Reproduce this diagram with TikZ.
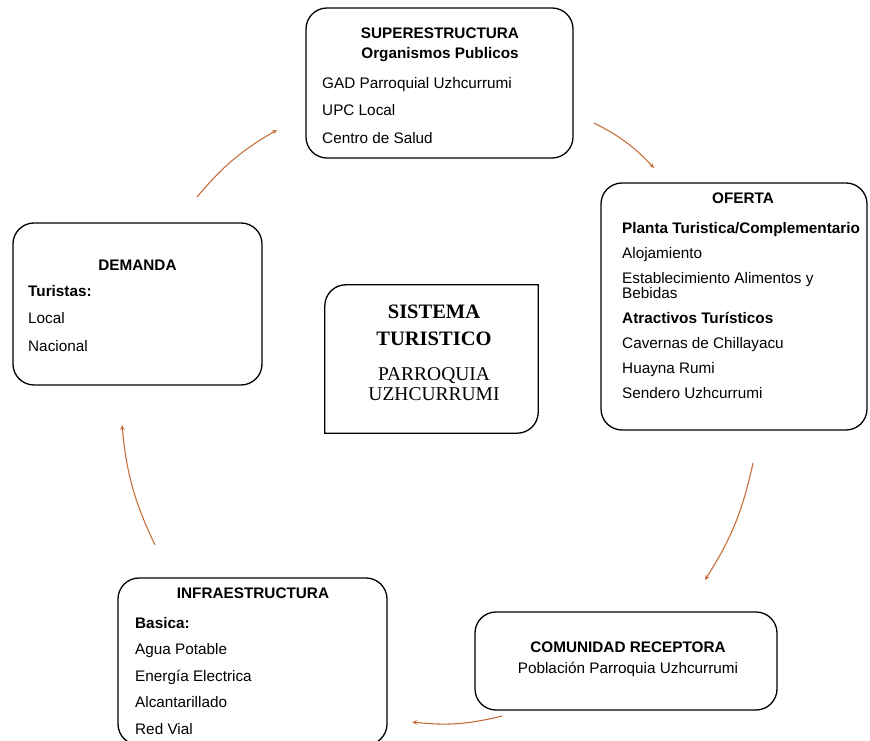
\documentclass[tikz,border=0pt]{standalone}
\usepackage{fontspec}
\setmainfont{Liberation Sans}
\newfontfamily\timesfont{Liberation Serif}
\usetikzlibrary{arrows.meta,positioning}
\definecolor{flowc}{RGB}{197,112,58}

\begin{document}
\begin{tikzpicture}[
				x=1pt,y=1pt,
				box/.style={draw=black,line width=1.3pt,rounded corners=21pt,inner sep=0pt},
				head/.style={font=\bfseries\fontsize{15.3}{20}\selectfont,inner sep=0pt,align=center},
				list/.style={font=\fontsize{15.3}{26.5}\selectfont,inner sep=0pt,align=left},
				flow/.style={draw=flowc,line width=1.1pt,-{Stealth[length=5pt,width=4.5pt]}}
			]
			\clip (0,0) rectangle (870,741);
			% boxes
			\node[box,minimum width=267pt,minimum height=150pt] (super) at (439.5,658) {};
			\node[box,minimum width=266pt,minimum height=247pt] (oferta) at (734,434.5) {};
			\node[box,minimum width=249pt,minimum height=162pt] (demanda) at (137.5,437) {};
			\node[box,minimum width=269pt,minimum height=167pt] (infra) at (252.5,79.5) {};
			\node[box,minimum width=302pt,minimum height=98pt] (comunidad) at (626,80) {};
			\node[inner sep=0pt,minimum width=213pt,minimum height=148pt] (sistema) at (431.5,382) {};
			\draw[line width=1.3pt] (sistema.south west) -- ([yshift=-21pt]sistema.north west)
				arc[start angle=180,end angle=90,radius=21pt] -- (sistema.north east)
				-- ([yshift=21pt]sistema.south east) arc[start angle=0,end angle=-90,radius=21pt] -- cycle;

			% texts
			\node[head,anchor=north] (superhead) at (440,713) {SUPERESTRUCTURA\\Organismos Publicos};
			\node[list,anchor=north west,font=\fontsize{15.3}{27.5}\selectfont] (superlist) at (322,664)
				{GAD Parroquial Uzhcurrumi\\UPC Local\\Centro de Salud};

			\node[head,anchor=north] (ofertahead) at (743,548) {OFERTA};
			\node[list,anchor=north west,font=\fontsize{15.3}{25}\selectfont] (ofertalist) at (622,519)
				{\textbf{Planta Turistica/Complementario}\\Alojamiento\\Establecimiento Alimentos y\\[-10pt]Bebidas\\
				\textbf{Atractivos Turísticos}\\Cavernas de Chillayacu\\Huayna Rumi\\Sendero Uzhcurrumi};

			\node[head,anchor=north] (demandahead) at (137.5,481) {DEMANDA};
			\node[list,anchor=north west,font=\fontsize{15.3}{27.5}\selectfont] (demandalist) at (28,456)
				{\textbf{Turistas:}\\Local\\Nacional};

			\node[head,anchor=north] (infrahead) at (253,153) {INFRAESTRUCTURA};
			\node[list,anchor=north west] (infralist) at (135,124)
				{\textbf{Basica:}\\Agua Potable\\Energía Electrica\\Alcantarillado\\Red Vial};

			\node[head,anchor=north,font=\fontsize{15.3}{21}\selectfont] (comunidadtext) at (628,99)
				{\textbf{COMUNIDAD RECEPTORA}\\Población Parroquia Uzhcurrumi};

			\node[anchor=north,inner sep=0pt,align=center,font=\timesfont\bfseries\fontsize{20.5}{27}\selectfont]
				(sistitle) at (434,436) {SISTEMA\\TURISTICO};
			\node[anchor=north,inner sep=0pt,align=center,font=\timesfont\fontsize{19.5}{20.5}\selectfont]
				(sissub) at (434,374) {PARROQUIA\\UZHCURRUMI};

			% flow arrows
			\coordinate (a1) at (197,544); \coordinate (b1) at (277,611);
			\coordinate (a2) at (594,618); \coordinate (b2) at (654,573);
			\coordinate (a3) at (753,278); \coordinate (b3) at (705,161);
			\coordinate (a4) at (502,25);  \coordinate (b4) at (412,19);
			\coordinate (a5) at (155,196); \coordinate (b5) at (122,316);
			\foreach \i in {1,...,5}
				\draw[flow] (a\i) to[bend left=10] (b\i);
		\end{tikzpicture}
\end{document}
